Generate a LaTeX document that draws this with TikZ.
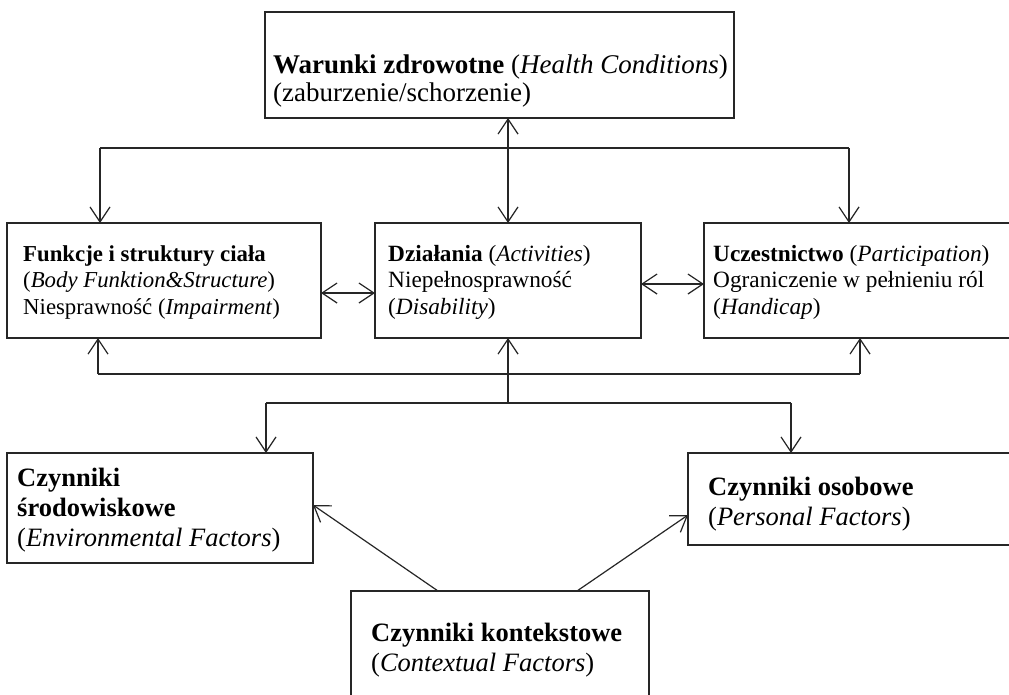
\documentclass[tikz,border=0pt]{standalone}
\usepackage{fontspec}
\setmainfont{Liberation Serif}
\usetikzlibrary{arrows.meta,calc}
\begin{document}
\begin{tikzpicture}[x=1pt,y=-1pt,
  box/.style={draw=black!85,line width=1.3pt,rectangle,inner sep=0pt,outer sep=0pt},
  ttext/.style={anchor=north west,inner sep=0pt,align=left,font=\fontsize{27}{28}\selectfont},
  mtext/.style={anchor=north west,inner sep=0pt,align=left,font=\fontsize{23.3}{26.5}\selectfont},
  btext/.style={anchor=north west,inner sep=0pt,align=left,font=\fontsize{26.5}{30}\selectfont},
  link/.style={draw=black!85,line width=1.2pt},
  tip/.style={link,-{Straight Barb[length=15pt,width=20pt]}},
  tips/.style={link,{Straight Barb[length=15pt,width=20pt]}-{Straight Barb[length=15pt,width=20pt]}}
]
\useasboundingbox (0,0) rectangle (1009,694);
\clip (0,0) rectangle (1009,694);
\fill[white] (0,0) rectangle (1009,694);

% boxes
\node[box,minimum width=469pt,minimum height=106pt] (hc) at (499.5,65) {};
\node[box,minimum width=314pt,minimum height=115pt] (body) at (164,280.5) {};
\node[box,minimum width=266pt,minimum height=115pt] (act) at (508,280.5) {};
\node[box,minimum width=312pt,minimum height=115pt] (part) at (860,280.5) {};
\node[box,minimum width=306pt,minimum height=110pt] (env) at (160,508) {};
\node[box,minimum width=327pt,minimum height=92pt] (pers) at (851.5,499) {};
\node[box,minimum width=298pt,minimum height=109pt] (ctx) at (500,645.5) {};

% texts
\node[ttext] (hct) at ($(hc.north west)+(8,41.4)$) {\strut\textbf{Warunki zdrowotne} (\textit{Health Conditions})\\(zaburzenie/schorzenie)};
\node[mtext,font=\fontsize{22.8}{26.5}\selectfont] (bodyt) at ($(body.north west)+(16,19.5)$) {\strut\textbf{Funkcje i struktury ciała}\\(\textit{Body Funktion\&Structure})\\Niesprawność (\textit{Impairment})};
\node[mtext] (actt) at ($(act.north west)+(13,19.5)$) {\strut\textbf{Działania} (\textit{Activities})\\Niepełnosprawność\\(\textit{Disability})};
\node[mtext] (partt) at ($(part.north west)+(9,19.5)$) {\strut\textbf{Uczestnictwo} (\textit{Participation})\\Ograniczenie w pełnieniu ról\\(\textit{Handicap})};
\node[btext] (envt) at ($(env.north west)+(10,12)$) {\strut\textbf{Czynniki}\\\textbf{środowiskowe}\\(\textit{Environmental Factors})};
\node[btext] (perst) at ($(pers.north west)+(20,21)$) {\strut\textbf{Czynniki osobowe}\\(\textit{Personal Factors})};
\node[btext] (ctxt) at ($(ctx.north west)+(20,29)$) {\strut\textbf{Czynniki kontekstowe}\\(\textit{Contextual Factors})};

% junction points
\coordinate (tl) at (100,148);
\coordinate (tr) at (849,148);
\coordinate (bl) at (98,374);
\coordinate (br) at (860,374);
\coordinate (ml) at (266,403);
\coordinate (mr) at (791,403);

% top distribution
\draw[tips] (hc.south -| act.north) -- (act.north);
\draw[link] (tl) -- (tr);
\draw[tip] (tl) -- (tl |- body.north);
\draw[tip] (tr) -- (tr |- part.north);

% horizontal double arrows
\draw[tips] ([yshift=-12.5pt]body.east) -- ([yshift=-12.5pt]act.west);
\draw[tips] ([yshift=-3.5pt]act.east) -- ([yshift=-3.5pt]part.west);

% bottom feedback
\draw[link] (bl) -- (br);
\draw[tip] (bl) -- (bl |- body.south);
\draw[tip] (br) -- (br |- part.south);
\draw[tip] (act.south |- ml) -- (act.south);

% factors
\draw[link] (ml) -- (mr);
\draw[tip] (ml) -- (ml |- env.north);
\draw[tip] (mr) -- (mr |- pers.north);
\draw[tip] ([xshift=87pt]ctx.north west) -- ([yshift=3pt]env.east);
\draw[tip] ([xshift=-72pt]ctx.north east) -- ([yshift=-16pt]pers.west);
\end{tikzpicture}
\end{document}
